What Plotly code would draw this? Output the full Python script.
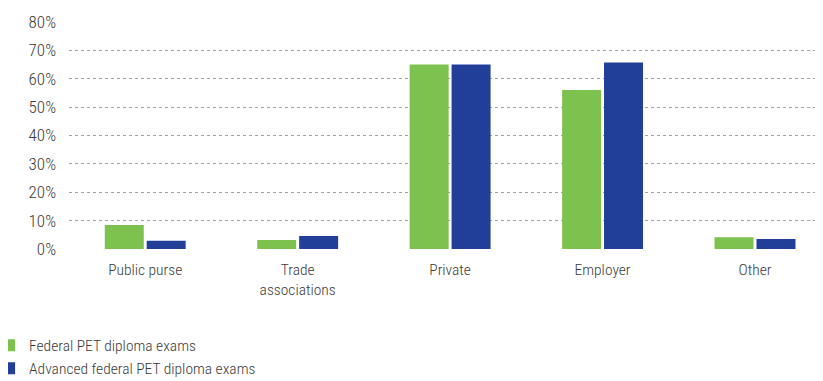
import plotly.graph_objects as go

categories = ["Public purse", "Trade<br>associations", "Private", "Employer", "Other"]
federal = [8.5, 3.2, 65.0, 56.0, 4.1]
advanced = [2.9, 4.6, 65.0, 65.7, 3.5]
series_names = ["Federal PET diploma exams", "Advanced federal PET diploma exams"]
tick_vals = [0, 10, 20, 30, 40, 50, 60, 70, 80]
tick_text = ["0%", "10%", "20%", "30%", "40%", "50%", "60%", "70%", "80%"]

FONT = "Roboto Condensed, Roboto, sans-serif"
TXT = "#3a3a3a"

def f(size=15):
    return dict(family=FONT, size=size, color=TXT, weight=300)

fig = go.Figure()
fig.add_trace(go.Bar(x=categories, y=federal, name=series_names[0],
                     marker=dict(color="#7dc24f", line=dict(width=0))))
fig.add_trace(go.Bar(x=categories, y=advanced, name=series_names[1],
                     marker=dict(color="#213f99", line=dict(width=0))))

fig.update_layout(
    width=823, height=381,
    margin=dict(l=61, r=8, t=14, b=140, autoexpand=False),
    paper_bgcolor="white", plot_bgcolor="white",
    barmode="group", bargap=0.45, bargroupgap=0.07,
    font=f(),
    showlegend=True,
    legend=dict(orientation="v", xref="paper", yref="paper",
                x=-0.106, y=-0.476, xanchor="left", yanchor="middle",
                font=f(15.5),
                itemsizing="constant", bgcolor="rgba(0,0,0,0)"),
    xaxis=dict(range=[-0.5, 4.446], showgrid=False, showline=False, zeroline=False,
               ticks="", tickangle=0, ticklabelstandoff=9, tickfont=f(15.5)),
    yaxis=dict(range=[0, 80], tickvals=tick_vals, ticktext=tick_text,
               showgrid=True, gridcolor="#a0a0a0", griddash="dot", gridwidth=1,
               zeroline=False, showline=False, ticks="", ticklabelstandoff=12,
               tickfont=f(17)),
)

fig.write_html("out.html")
